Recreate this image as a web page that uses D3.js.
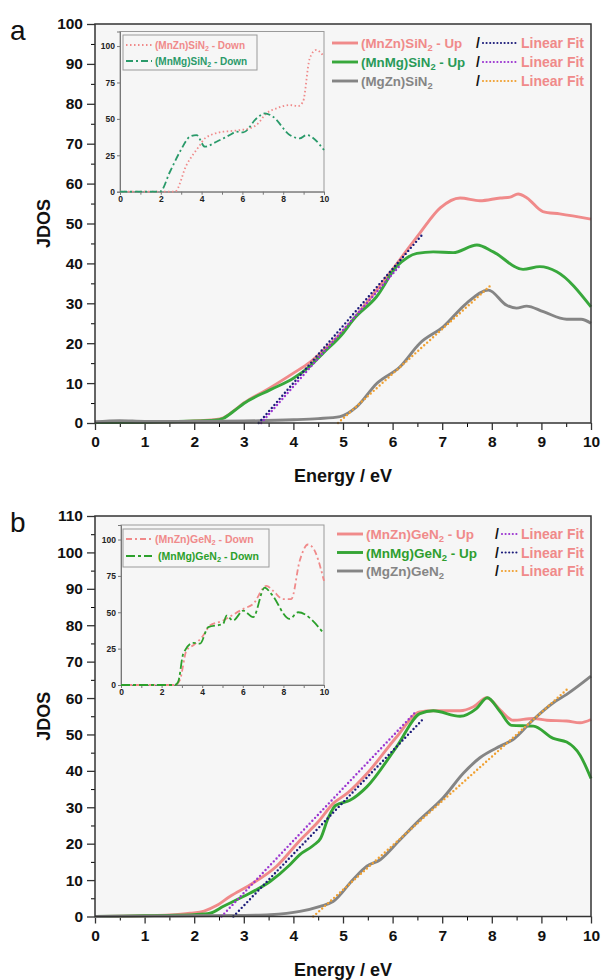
<!DOCTYPE html>
<html>
<head>
<meta charset="utf-8">
<title>JDOS</title>
<script src="https://d3js.org/d3.v7.min.js"></script>
<style>
  body { margin: 0; background: #fff; }
  text { font-family: "Liberation Sans", Arial, sans-serif; }
</style>
</head>
<body>
<div id="chart"></div>
<script>
// ---- panel a : SiN2 ----
const siMnZnUp = [[0,0.1],[1,0.2],[1.5,0.3],[2,0.5],[2.4,0.8],[2.59,1.3],[2.8,3.1],[3,5],[3.5,8.6],[4,12.5],[4.33,15.2],[4.7,19.3],[5,23],[5.5,30.5],[6,38.5],[6.3,43.5],[6.55,47.6],[6.96,53.9],[7.36,56.4],[7.76,55.7],[8.17,56.4],[8.37,56.6],[8.53,57.4],[8.71,56.4],[9.03,53],[9.37,52.4],[10,51.1]];
const siMnMgUp = [[0,0.1],[1,0.2],[1.5,0.3],[2,0.5],[2.4,0.7],[2.59,1.2],[2.8,3],[3,4.9],[3.53,8.3],[4,11.2],[4.33,14.2],[4.6,17.5],[5,22.5],[5.2,25.8],[5.68,31.7],[6.08,39.2],[6.3,41.5],[6.49,42.5],[6.82,42.9],[7.22,42.7],[7.7,44.6],[8.03,42.9],[8.63,38.5],[8.97,39.2],[9.31,37.9],[10,29.1]];
const siMgZn = [[0,0.3],[0.5,0.6],[1,0.4],[2,0.4],[3,0.5],[4,0.8],[4.5,1.1],[4.94,1.6],[5.28,4.1],[5.68,9.9],[6.15,14.1],[6.55,20],[7.02,24.1],[7.49,30],[7.93,33.3],[8.3,29.5],[8.5,28.8],[8.7,29.3],[9.04,27.9],[9.51,26],[9.8,26],[10,25]];
const siFitMnZn = [[3.3,0],[6.62,47.5]];
const siFitMnMg = [[3.35,0],[6.15,39.5]];
const siFitMgZn = [[4.9,0],[7.96,34.3]];
const siMnZnDown = [[0,0],[2.69,0],[3.26,18.3],[3.92,32],[4.16,36.6],[5.06,41.2],[5.38,41.6],[5.87,42.3],[6.36,43.5],[6.69,45.8],[7.18,53.8],[7.67,57.2],[8.32,59.5],[8.73,58.8],[8.97,61.8],[9.3,91.5],[9.62,97.3],[10,92.7]];
const siMnMgDown = [[0,0],[1.96,0],[2.45,13.7],[2.94,27.5],[3.43,37.8],[3.75,38.9],[4.16,30.9],[4.73,34.3],[5.38,38.9],[5.71,41.2],[6.04,40.7],[6.69,50.3],[7.1,53.8],[7.5,51.5],[8.32,38.9],[8.81,36.6],[9.14,38.9],[10,28.6]];

// ---- panel b : GeN2 ----
const geMnZnUp = [[0,0],[1,0.2],[1.5,0.4],[1.92,0.9],[2.2,1.5],[2.45,3],[2.72,5.5],[3.13,8.7],[3.66,13.8],[4.13,20.9],[4.5,26],[4.8,31],[5.1,34],[5.48,39.2],[6.08,49.3],[6.55,56.2],[6.82,56.5],[7.36,56.5],[7.63,57.6],[7.9,60.1],[8.17,56.7],[8.43,53.9],[8.84,54.4],[9.11,53.9],[9.51,53.7],[9.78,53.2],[10,54.1]];
const geMnMgUp = [[0,0],[1,0.2],[1.5,0.3],[2,0.5],[2.32,0.9],[2.59,2.8],[2.99,5.5],[3.53,9.6],[3.93,14.2],[4.13,17],[4.4,19.5],[4.55,21.5],[4.7,27],[4.85,30.5],[5.14,31.9],[5.48,35.6],[6.08,46.6],[6.55,55.7],[6.82,56.5],[7.36,55],[7.69,57.1],[7.91,60.1],[8.17,56.2],[8.4,52.5],[8.84,52.3],[9.24,48.9],[9.51,47.9],[9.78,44.3],[10,37.9]];
const geMgZn = [[0,0],[1,0.1],[2,0.2],[3,0.3],[3.53,0.5],[4.13,1.4],[4.54,2.8],[4.8,4.1],[5.2,10.1],[5.48,13.8],[5.75,15.6],[6.15,21.1],[6.55,26.6],[7.02,32.6],[7.43,39.4],[7.76,43.6],[8.17,46.8],[8.43,48.6],[8.84,54.1],[9.24,58.7],[9.51,61],[10,66]];
const geFitMnZn = [[2.55,0],[6.45,56]];
const geFitMnMg = [[2.79,0],[6.62,54.3]];
const geFitMgZn = [[4.4,0],[9.51,62.3]];
const geMnZnDown = [[0,0],[2.66,0],[2.9,3.4],[3.23,23.9],[3.56,27.3],[4.05,34],[4.38,40.9],[5.03,44.3],[5.36,47],[6.02,52.3],[6.51,55.7],[7.16,68.2],[7.49,64.8],[7.98,59.1],[8.39,59.1],[8.8,85.2],[9.21,96.6],[9.46,94.3],[10,71.6]];
const geMnMgDown = [[0,0],[2.66,0],[2.82,2.3],[3.07,21.6],[3.56,28.9],[3.89,28.4],[4.3,39.8],[5.03,42],[5.2,47.7],[5.52,44.3],[6.02,51.1],[6.51,46.6],[7.08,67],[7.41,62.5],[8.31,45.5],[8.72,50],[10,35.2]];

const insetYTicks = [0, 25, 50, 75, 100];
const insetXTicks = [0, 2, 4, 6, 8, 10];

const pink = '#f08a8a', grey = '#858585', navy = '#1c1c7a', purple = '#9b35d0', orange = '#f0a030';

const svg = d3.select('#chart').append('svg')
  .attr('width', 601).attr('height', 980);

function drawPanel(p) {
  const x = d3.scaleLinear().domain([0, 10]).range([95, 591]);
  const y = d3.scaleLinear().domain([0, p.ymax]).range([p.bottom, p.top]);
  const g = svg.append('g');

  g.append('rect').attr('x', 95).attr('y', p.top)
    .attr('width', 496).attr('height', p.bottom - p.top).attr('fill', '#f6f6f6');

  // minor ticks
  g.append('g').attr('transform', `translate(95,0)`)
    .call(d3.axisLeft(y).tickValues(d3.range(5, p.ymax, 10)).tickSize(4).tickFormat(''))
    .call(a => a.select('.domain').remove());
  g.append('g').attr('transform', `translate(0,${p.bottom})`)
    .call(d3.axisBottom(x).tickValues(d3.range(0.5, 10, 1)).tickSize(4).tickFormat(''))
    .call(a => a.select('.domain').remove());

  const ya = g.append('g').attr('transform', `translate(95,0)`)
    .call(d3.axisLeft(y).tickValues(d3.range(0, p.ymax + 1, 10)).tickSize(8).tickPadding(4));
  const xa = g.append('g').attr('transform', `translate(0,${p.bottom})`)
    .call(d3.axisBottom(x).tickValues(d3.range(0, 11, 1)).tickSize(7).tickPadding(6));
  [ya, xa].forEach(a => {
    a.selectAll('text').attr('font-size', 15.5).attr('font-weight', 'bold').attr('fill', '#111')
      .attr('font-family', '"Liberation Sans", Arial, sans-serif');
    a.selectAll('line').attr('stroke', '#333').attr('stroke-width', 1.3);
    a.select('.domain').remove();
  });

  const line = d3.line().x(d => x(d[0])).y(d => y(d[1])).curve(d3.curveMonotoneX);
  const fit = d3.line().x(d => x(d[0])).y(d => y(d[1]));

  p.curves.forEach(c => {
    g.append('path').datum(c.data).attr('d', line)
      .attr('fill', 'none').attr('stroke', c.color).attr('stroke-width', 2.9);
  });
  p.fits.forEach(c => {
    g.append('path').datum(c.data).attr('d', fit)
      .attr('fill', 'none').attr('stroke', c.color).attr('stroke-width', 2.4)
      .attr('stroke-linecap', 'round').attr('stroke-dasharray', '0,4');
  });

  g.append('rect').attr('x', 95).attr('y', p.top)
    .attr('width', 496).attr('height', p.bottom - p.top)
    .attr('fill', 'none').attr('stroke', '#333').attr('stroke-width', 1.5);

  // inset
  const ix = d3.scaleLinear().domain([0, 10]).range([p.inset.left, 324]);
  const iy = d3.scaleLinear().domain([0, 110]).range([p.inset.bottom, p.inset.top]);
  const ig = svg.append('g');
  ig.append('rect').attr('x', p.inset.left).attr('y', p.inset.top)
    .attr('width', 324 - p.inset.left).attr('height', p.inset.bottom - p.inset.top)
    .attr('fill', '#f6f6f6').attr('stroke', '#9a9a9a').attr('stroke-width', 1);
  const iya = ig.append('g').attr('transform', `translate(${p.inset.left},0)`)
    .call(d3.axisLeft(iy).tickValues(insetYTicks).tickSize(3).tickPadding(2));
  const ixa = ig.append('g').attr('transform', `translate(0,${p.inset.bottom})`)
    .call(d3.axisBottom(ix).tickValues(d3.range(0, 11, 1)).tickSize(3).tickPadding(1)
      .tickFormat(d => insetXTicks.includes(d) ? d : ''));
  [iya, ixa].forEach(a => {
    a.selectAll('text').attr('font-size', 8.5).attr('font-weight', 'bold').attr('fill', '#222')
      .attr('font-family', '"Liberation Sans", Arial, sans-serif');
    a.selectAll('line').attr('stroke', '#777');
    a.select('.domain').attr('stroke', '#777');
  });
  const iline = d3.line().x(d => ix(d[0])).y(d => iy(d[1])).curve(d3.curveMonotoneX);
  p.inset.curves.forEach(c => {
    ig.append('path').datum(c.data).attr('d', iline)
      .attr('fill', 'none').attr('stroke', c.color).attr('stroke-width', 1.8)
      .attr('stroke-dasharray', c.dash);
  });
  // inset legend
  const il = p.inset.legend;
  ig.append('rect').attr('x', il.x).attr('y', il.y).attr('width', il.w).attr('height', il.h)
    .attr('fill', '#f6f6f6').attr('stroke', '#9a9a9a');
  p.inset.curves.forEach((c, i) => {
    const yy = il.y + 10 + i * il.gap;
    ig.append('line').attr('x1', il.x + 3).attr('x2', il.x + 29).attr('y1', yy).attr('y2', yy)
      .attr('stroke', c.color).attr('stroke-width', 1.8).attr('stroke-dasharray', c.dash);
    label(ig, il.x + 32 + (c.shift || 0), yy + 3.5, c.name, c.sub, c.color, il.size);
  });

  // main legend
  const L = p.legend;
  p.curves.forEach((c, i) => {
    const yy = L.y + i * L.gap;
    g.append('line').attr('x1', L.x).attr('x2', L.x + 26).attr('y1', yy).attr('y2', yy)
      .attr('stroke', c.color).attr('stroke-width', 2.9);
    label(g, L.x + 29, yy + 5, c.name, c.sub, c.text, L.size);
    g.append('text').attr('x', L.slash).attr('y', yy + 5).attr('font-size', 14)
      .attr('font-weight', 'bold').attr('fill', '#111').text('/');
    const lf = g.append('text').attr('x', 584).attr('y', yy + 5).attr('text-anchor', 'end')
      .attr('font-size', 14).attr('font-weight', 'bold').attr('fill', pink).text('Linear Fit');
    const start = 584 - lf.node().getComputedTextLength();
    g.append('line').attr('x1', L.slash + 7).attr('x2', start - 2).attr('y1', yy).attr('y2', yy)
      .attr('stroke', p.fits[c.fit].color).attr('stroke-width', 2.2)
      .attr('stroke-linecap', 'round').attr('stroke-dasharray', '0,3.6');
  });

  svg.append('text').attr('x', 10).attr('y', p.top + 16).attr('font-size', 28).attr('fill', '#111').text(p.tag);
  svg.append('text').attr('transform', `translate(50,${(p.top + p.bottom) / 2}) rotate(-90)`)
    .attr('text-anchor', 'middle').attr('font-size', 18).attr('font-weight', 'bold').attr('fill', '#111').text('JDOS');
  svg.append('text').attr('x', 343).attr('y', p.bottom + 59).attr('text-anchor', 'middle')
    .attr('font-size', 18).attr('font-weight', 'bold').attr('fill', '#111').text('Energy / eV');
}

function label(g, x, y, name, sub, color, size) {
  const t = g.append('text').attr('x', x).attr('y', y).attr('font-size', size)
    .attr('font-weight', 'bold').attr('fill', color);
  t.append('tspan').text(name[0]);
  t.append('tspan').attr('font-size', size * 0.7).attr('dy', size * 0.25).text(sub);
  t.append('tspan').attr('dy', -size * 0.25).text(name[1]);
}

drawPanel({
  tag: 'a', top: 24, bottom: 423, ymax: 100,
  curves: [
    { data: siMnZnUp, color: pink, text: pink, name: ['(MnZn)SiN', ' - Up'], sub: '2', fit: 0 },
    { data: siMnMgUp, color: '#38a83c', text: '#2a9a58', name: ['(MnMg)SiN', ' - Up'], sub: '2', fit: 1 },
    { data: siMgZn, color: grey, text: grey, name: ['(MgZn)SiN', ''], sub: '2', fit: 2 }
  ],
  fits: [
    { data: siFitMnZn, color: navy },
    { data: siFitMnMg, color: purple },
    { data: siFitMgZn, color: orange }
  ],
  legend: { x: 332, y: 43, gap: 19, slash: 476, size: 13.3 },
  inset: {
    left: 120, top: 31.5, bottom: 191.7,
    curves: [
      { data: siMnZnDown, color: pink, dash: '1.5,2.5', name: ['(MnZn)SiN', ' - Down'], sub: '2' },
      { data: siMnMgDown, color: '#2a9a6a', dash: '7,3,2,3', name: ['(MnMg)SiN', ' - Down'], sub: '2' }
    ],
    legend: { x: 123, y: 35, w: 134, h: 35, gap: 16, size: 10 }
  }
});

drawPanel({
  tag: 'b', top: 516, bottom: 916.5, ymax: 110,
  curves: [
    { data: geMnZnUp, color: pink, text: pink, name: ['(MnZn)GeN', ' - Up'], sub: '2', fit: 0 },
    { data: geMnMgUp, color: '#35a535', text: '#2f9e2f', name: ['(MnMg)GeN', ' - Up'], sub: '2', fit: 1 },
    { data: geMgZn, color: grey, text: grey, name: ['(MgZn)GeN', ''], sub: '2', fit: 2 }
  ],
  fits: [
    { data: geFitMnZn, color: purple },
    { data: geFitMnMg, color: navy },
    { data: geFitMgZn, color: orange }
  ],
  legend: { x: 337, y: 534, gap: 18.5, slash: 495, size: 13.5 },
  inset: {
    left: 121, top: 525, bottom: 685,
    curves: [
      { data: geMnZnDown, color: pink, dash: '6,3,2,3', name: ['(MnZn)GeN', ' - Down'], sub: '2' },
      { data: geMnMgDown, color: '#2ca02c', dash: '9,3,3,3', name: ['(MnMg)GeN', ' - Down'], sub: '2', shift: 3 }
    ],
    legend: { x: 123, y: 529, w: 146, h: 38, gap: 17, size: 10.5 }
  }
});
</script>
</body>
</html>
